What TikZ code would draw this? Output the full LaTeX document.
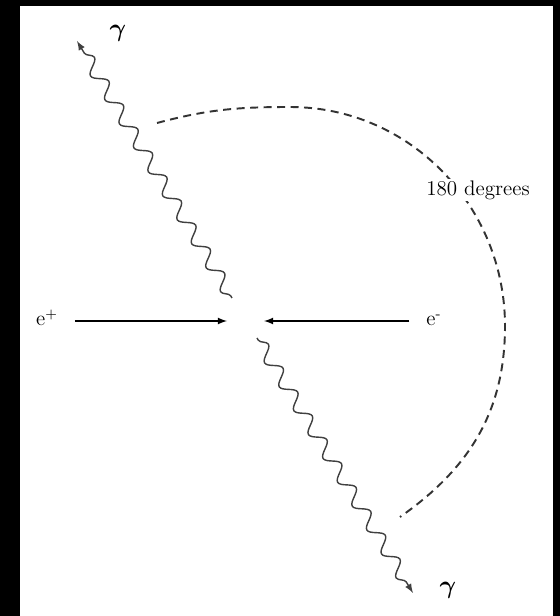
\documentclass[tikz,border=0pt]{standalone}
\usetikzlibrary{decorations.pathmorphing}

\begin{document}
\begin{tikzpicture}[x=0.02cm,y=0.02cm,>=latex,
  photon/.style={->,line width=0.8pt,black!75,decorate,
    decoration={snake,amplitude=1.3mm,segment length=5.6mm,pre length=0.5mm,post length=1.5mm}},
  beam/.style={->,line width=0.8pt},
  degarc/.style={line width=1.1pt,black!80,dash pattern=on 1.6mm off 1.1mm},
  lbl/.style={font=\large,inner sep=1pt}]
\fill[black] (0,0) rectangle (560,616);
\fill[white] (20,0) rectangle (553,610);
\node[lbl,anchor=base] (ep) at (47,290) {e$^+$};
\node[lbl,anchor=base] (em) at (434,290) {e\textsuperscript{-}};
\coordinate (vl) at (227,295);
\coordinate (vr) at (264,295);
\draw[beam,shorten <=3mm] (ep.east |- vl) -- (vl);
\draw[beam,shorten <=3mm] (em.west |- vr) -- (vr);
\coordinate (pua) at (232,318);
\coordinate (pub) at (77,575);
\coordinate (pda) at (257,278);
\coordinate (pdb) at (413,23);
\draw[photon] (pua) -- (pub);
\draw[photon] (pda) -- (pdb);
\node[lbl,font=\Large\boldmath] (gu) at (118,583) {$\gamma$};
\node[lbl,font=\Large\boldmath] (gd) at (448,26) {$\gamma$};
\coordinate (arca) at (157,493);
\coordinate (arct) at (290,509);
\coordinate (arcr) at (505,290);
\coordinate (arce) at (400,99);
\draw[degarc] (arca) to[out=15,in=180] (arct) to[out=0,in=90] (arcr) to[out=-90,in=35] (arce);
\node[lbl,fill=white] (deg) at (478,426) {180 degrees};
\end{tikzpicture}
\end{document}
